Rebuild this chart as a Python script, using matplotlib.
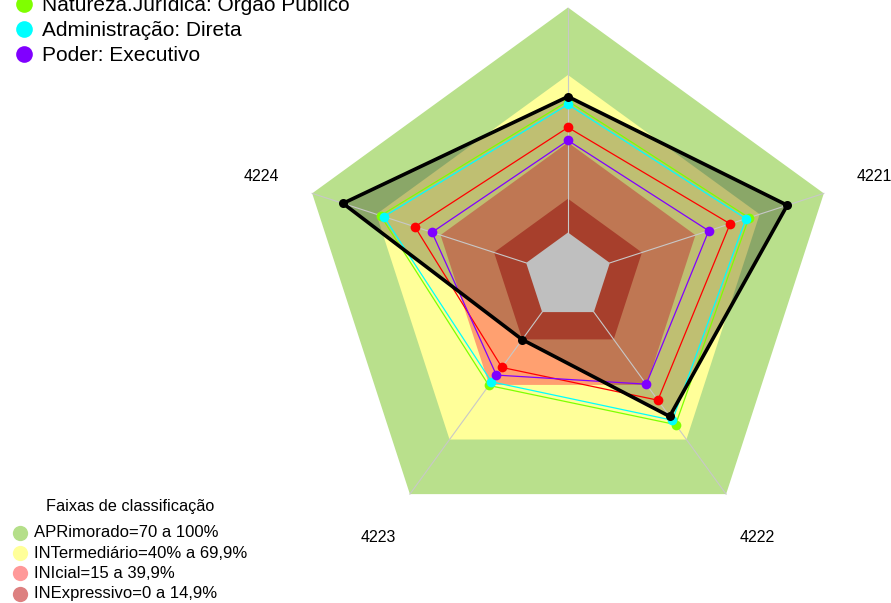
import numpy as np
import matplotlib
matplotlib.use("Agg")
import matplotlib.pyplot as plt
from matplotlib.patches import Polygon

plt.rcParams['font.family'] = ['Liberation Sans', 'DejaVu Sans']

# ---- data (axis order: top, 4221, 4222, 4223, 4224) ----
axis_labels = [None, "4221", "4222", "4223", "4224"]
axis_angles_deg = [90, 18, -54, -126, 162]

band_limits = [100, 70, 40, 15]
band_names = ["APRimorado=70 a 100%", "INTermediário=40% a 69,9%",
              "INIcial=15 a 39,9%", "INExpressivo=0 a 14,9%"]

black_vals = [60.4, 82.9, 57.3, 15.1, 85.6]
natureza_vals = [58.4, 65.0, 61.8, 40.3, 68.0]
administracao_vals = [56.9, 63.6, 59.4, 38.3, 66.5]
red_vals = [46.7, 56.2, 48.4, 30.4, 52.0]
poder_vals = [40.9, 46.2, 39.6, 34.6, 44.0]

legend_top_labels = ["Natureza.Jurídica: Órgão Público", "Administração: Direta", "Poder: Executivo"]

# ---- styling ----
band_fill = ["#B9E08C", "#FFFF99", "#FFA070", "#E0553B"]
band_legend = ["#B5DF8A", "#FFFF99", "#FF9999", "#DD8080"]
W, H = 891, 603
cx, cy = 568.0, 276.5
r0, rscale = 44.0, 2.25

fig = plt.figure(figsize=(W / 100, H / 100), dpi=100)
ax = fig.add_axes([0, 0, 1, 1])
ax.set_xlim(0, W)
ax.set_ylim(H, 0)
ax.axis('off')

ang = np.deg2rad(np.array(axis_angles_deg))


def pts(vals):
    r = r0 + rscale * np.asarray(vals, dtype=float)
    return np.column_stack([cx + r * np.cos(ang), cy - r * np.sin(ang)])


# bands
for lim, col in zip(band_limits, band_fill):
    ax.add_patch(Polygon(pts([lim] * 5), closed=True, facecolor=col, edgecolor='none', zorder=1))
ax.add_patch(Polygon(pts([0] * 5), closed=True, facecolor='white', edgecolor='none', zorder=1))

# black series fill
ax.add_patch(Polygon(pts(black_vals), closed=True, facecolor=(0, 0, 0, 0.25), edgecolor='none', zorder=2))

# spokes
inner = pts([0] * 5)
outer = pts([100] * 5)
for i in range(5):
    ax.plot([inner[i, 0], outer[i, 0]], [inner[i, 1], outer[i, 1]], color='#C8C8C8', lw=0.8, zorder=3)

# series
series = [(natureza_vals, '#7FFF00'), (administracao_vals, '#00FFFF'),
          (red_vals, '#FF0000'), (poder_vals, '#8000FF')]
z = 4
for vals, col in series:
    p = pts(vals)
    pc = np.vstack([p, p[:1]])
    ax.plot(pc[:, 0], pc[:, 1], color=col, lw=0.9, zorder=z)
    ax.plot(p[:, 0], p[:, 1], 'o', color=col, ms=7, mec='none', zorder=z + 0.5)
    z += 1
p = pts(black_vals)
pc = np.vstack([p, p[:1]])
ax.plot(pc[:, 0], pc[:, 1], color='black', lw=2.6, zorder=z, solid_joinstyle='miter')
ax.plot(p[:, 0], p[:, 1], 'o', color='black', ms=6.5, mec='none', zorder=z + 0.5)

# axis labels
label_r = 322
for lab, a in zip(axis_labels, ang):
    if lab is None:
        continue
    lx = cx + label_r * np.cos(a)
    ly = cy - label_r * np.sin(a)
    ax.text(lx, ly, lab, fontsize=11.5, ha='center', va='center', zorder=10)

# top legend
top_cols = ['#7FFF00', '#00FFFF', '#8000FF']
for i, (lab, col) in enumerate(zip(legend_top_labels, top_cols)):
    yb = 11 + 25 * i
    ax.plot([24], [yb - 7], 'o', color=col, ms=12, mec='none', zorder=10)
    ax.text(42, yb, lab, fontsize=15, ha='left', va='baseline', zorder=10)

# band legend
ax.text(130, 511.5, "Faixas de classificação", fontsize=11.7, ha='center', va='baseline')
for i, (lab, col) in enumerate(zip(band_names, band_legend)):
    yc = 532.7 + 20.3 * i
    ax.plot([20], [yc], 'o', color=col, ms=11, mec='none')
    ax.text(34, yc + 4.5, lab, fontsize=12, ha='left', va='baseline')

fig.savefig('out.png', dpi=100)
